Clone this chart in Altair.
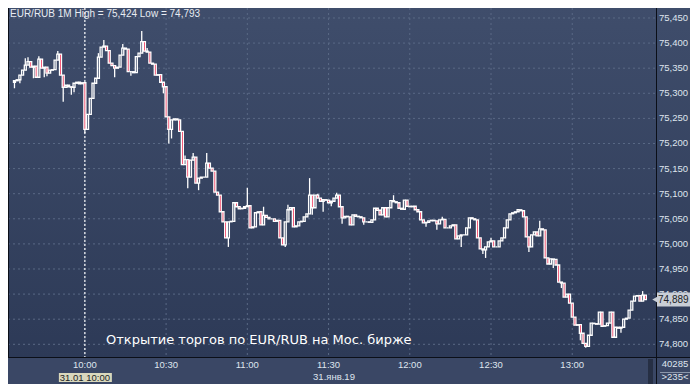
import altair as alt
import pandas as pd

# ---------------- data ----------------
FIRST_OPEN = 75.322
CLOSES = [
    75.325, 75.327, 75.336, 75.346, 75.356, 75.363, 75.352, 75.354, 75.332, 75.368,
    75.350, 75.352, 75.340, 75.346, 75.347, 75.366, 75.378, 75.336, 75.312, 75.316,
    75.313, 75.312, 75.320, 75.322, 75.319, 75.321, 75.228, 75.258, 75.290, 75.320,
    75.330, 75.372, 75.392, 75.394, 75.385, 75.360, 75.355, 75.350, 75.352, 75.376,
    75.390, 75.388, 75.343, 75.343, 75.341, 75.373, 75.380, 75.403, 75.384, 75.382,
    75.360, 75.358, 75.336, 75.337, 75.322, 75.313, 75.253, 75.228, 75.247, 75.249,
    75.247, 75.224, 75.158, 75.168, 75.133, 75.167, 75.173, 75.121, 75.131, 75.133,
    75.133, 75.161, 75.151, 75.145, 75.103, 75.097, 75.064, 75.044, 75.012, 75.044,
    75.045, 75.082, 75.074, 75.070, 75.071, 75.074, 75.076, 75.032, 75.034, 75.062,
    75.064, 75.038, 75.057, 75.053, 75.050, 75.050, 75.045, 75.047, 75.012, 74.998,
    75.044, 75.068, 75.072, 75.034, 75.036, 75.044, 75.045, 75.054, 75.060, 75.097,
    75.072, 75.097, 75.091, 75.085, 75.088, 75.087, 75.082, 75.085, 75.091, 75.097,
    75.074, 75.052, 75.055, 75.054, 75.038, 75.058, 75.055, 75.054, 75.052, 75.044,
    75.044, 75.043, 75.048, 75.071, 75.067, 75.058, 75.072, 75.054, 75.072, 75.086,
    75.084, 75.082, 75.071, 75.069, 75.087, 75.075, 75.074, 75.075, 75.068, 75.064,
    75.048, 75.042, 75.043, 75.046, 75.047, 75.046, 75.040, 75.048, 75.049, 75.032,
    75.032, 75.036, 75.038, 75.010, 75.016, 75.018, 75.018, 75.032, 75.052, 75.050,
    75.048, 75.012, 74.990, 74.988, 74.994, 75.004, 75.006, 74.994, 74.994, 75.006,
    75.012, 75.032, 75.048, 75.060, 75.062, 75.064, 75.068, 75.066, 75.054, 75.014,
    74.994, 75.018, 75.024, 75.016, 75.030, 75.028, 74.972, 74.960, 74.970, 74.969,
    74.958, 74.924, 74.922, 74.894, 74.900, 74.882, 74.854, 74.838, 74.839, 74.822,
    74.802, 74.796, 74.818, 74.842, 74.841, 74.840, 74.864, 74.836, 74.837, 74.842,
    74.864, 74.814, 74.834, 74.832, 74.834, 74.850, 74.852, 74.868, 74.886, 74.896,
    74.897, 74.886, 74.898, 74.889,
]
HIGHS = {4: 75.370, 5: 75.372, 9: 75.374, 16: 75.384, 31: 75.380, 33: 75.406,
         40: 75.398, 47: 75.424, 49: 75.390, 63: 75.176, 66: 75.181, 71: 75.181,
         86: 75.112, 92: 75.074, 101: 75.078, 109: 75.131, 112: 75.100,
         119: 75.102, 135: 75.068, 140: 75.097, 158: 75.054, 176: 75.012,
         194: 75.046, 232: 74.906}
LOWS = {0: 75.310, 2: 75.320, 7: 75.330, 11: 75.332, 12: 75.334, 18: 75.283,
        21: 75.297, 22: 75.302, 26: 75.221, 37: 75.332, 43: 75.335, 55: 75.300,
        57: 75.200, 58: 75.210, 64: 75.111, 68: 75.107, 79: 74.994, 100: 74.994,
        110: 75.058, 114: 75.064, 117: 75.075, 121: 75.040, 129: 75.038,
        152: 75.034, 156: 75.028, 165: 74.994, 173: 74.980, 174: 74.972,
        190: 74.984, 199: 74.952, 202: 74.912, 209: 74.808, 211: 74.793,
        224: 74.823}

Y_TICKS = [74.80, 74.85, 74.90, 74.95, 75.00, 75.05, 75.10, 75.15, 75.20,
           75.25, 75.30, 75.35, 75.40, 75.45]
Y_TICK_LABELS = ["74,800", "74,850", "74,900", "74,950", "75,000", "75,050",
                 "75,100", "75,150", "75,200", "75,250", "75,300", "75,350",
                 "75,400", "75,450"]
X_TICK_MINUTES = [26, 56, 86, 116, 146, 176, 206]   # minutes since 09:34
X_TICK_LABELS = ["10:00", "10:30", "11:00", "11:30", "12:00", "12:30", "13:00"]

TITLE = "EUR/RUB 1M High = 75,424 Low = 74,793"
NOTE = "Открытие торгов по EUR/RUB на Мос. бирже"
SESSION_OPEN_MIN = 26
SESSION_LABEL = "31.01 10:00"
DATE_LABEL = "31.янв.19"
LAST_PRICE = 74.889
LAST_LABEL = "74,889"
VOLUME_LABEL = "40285"
COUNT_LABEL = ">235<"

# ---------------- build table ----------------
opens = [FIRST_OPEN] + CLOSES[:-1]
rows = []
for i, (o, c) in enumerate(zip(opens, CLOSES)):
    top, bot = max(o, c), min(o, c)
    rows.append({"m": i, "open": o, "close": c, "top": top, "bot": bot,
                 "high": max(HIGHS.get(i, top), top),
                 "low": min(LOWS.get(i, bot), bot)})
candles = pd.DataFrame(rows)

W, H = 648, 349
xs = alt.Scale(domain=[-0.545, 235.09], nice=False, zero=False)
ys = alt.Scale(domain=[74.7747, 75.4699], nice=False, zero=False)
one = pd.DataFrame({"k": [0]})

LBL_FONT = "Liberation Sans"
LBL_COLOR = "#dfe5ee"
RED = "#ee1640"

bg = alt.Chart(one).mark_rect(
    color=alt.Gradient(gradient="linear",
                       stops=[alt.GradientStop(color="#3f4d6b", offset=0),
                              alt.GradientStop(color="#2d3a57", offset=1)],
                       x1=0, x2=0, y1=0, y2=1)
).encode(x=alt.value(0), x2=alt.value(682), y=alt.value(0), y2=alt.value(H))

strip = alt.Chart(one).mark_rect(color="#3a4765").encode(
    x=alt.value(0), x2=alt.value(682), y=alt.value(H), y2=alt.value(376))

ydf = pd.DataFrame({"v": Y_TICKS, "lab": Y_TICK_LABELS})
xdf = pd.DataFrame({"m": X_TICK_MINUTES, "lab": X_TICK_LABELS})

hgrid = alt.Chart(ydf).mark_rule(color="#5a6985", strokeDash=[2, 3], strokeWidth=1).encode(
    y=alt.Y("v:Q", scale=ys, axis=None), x=alt.value(0), x2=alt.value(W))
vgrid = alt.Chart(xdf).mark_rule(color="#5a6985", strokeDash=[2, 3], strokeWidth=1).encode(
    x=alt.X("m:Q", scale=xs, axis=None), y=alt.value(0), y2=alt.value(H))
marker = alt.Chart(pd.DataFrame({"m": [SESSION_OPEN_MIN]})).mark_rule(
    color="white", strokeDash=[2, 2], strokeWidth=1.2).encode(
    x=alt.X("m:Q", scale=xs, axis=None), y=alt.value(0), y2=alt.value(H))

X = alt.X("m:Q", scale=xs, axis=None)
up_wick = alt.Chart(candles).transform_filter("datum.high > datum.top").mark_rule(
    color="white", strokeWidth=1.3).encode(
    x=X, y=alt.Y("top:Q", scale=ys, axis=None), y2="high:Q")
lo_wick = alt.Chart(candles).transform_filter("datum.low < datum.bot").mark_rule(
    color="white", strokeWidth=1.3).encode(
    x=X, y=alt.Y("low:Q", scale=ys, axis=None), y2="bot:Q")
bodies = alt.Chart(candles).mark_bar(size=2, stroke="white", strokeWidth=1.3).encode(
    x=X, y=alt.Y("open:Q", scale=ys, axis=None), y2="close:Q",
    fill=alt.condition("datum.close < datum.open", alt.value(RED), alt.value("transparent")))

def txt(s, x, y, size=9, color=LBL_COLOR, align="center", font=LBL_FONT):
    return alt.Chart(pd.DataFrame({"t": [s]})).mark_text(
        align=align, baseline="middle", font=font, fontSize=size, color=color
    ).encode(x=alt.value(x), y=alt.value(y), text="t:N")

title = txt(TITLE, 2, 6, size=10, color="#e8ecf2", align="left")
note = txt(NOTE, 98, 332, size=13, color="#ffffff", align="left", font="DejaVu Sans")

vline = alt.Chart(one).mark_rule(color="#0b0f18", strokeWidth=1).encode(
    x=alt.value(W + 0.5), y=alt.value(0), y2=alt.value(376))
hline = alt.Chart(one).mark_rule(color="#0b0f18", strokeWidth=1).encode(
    y=alt.value(H + 0.5), x=alt.value(0), x2=alt.value(682))
lline = alt.Chart(one).mark_rule(color="#0b0f18", strokeWidth=1).encode(
    x=alt.value(0.5), y=alt.value(0), y2=alt.value(H))

ylabels = alt.Chart(ydf).mark_text(align="left", baseline="middle", font=LBL_FONT,
                                   fontSize=9.5, color=LBL_COLOR).encode(
    y=alt.Y("v:Q", scale=ys, axis=None), x=alt.value(W + 3), text="lab:N")
xlabels = alt.Chart(xdf).mark_text(align="center", baseline="middle", font=LBL_FONT,
                                   fontSize=9.5, color=LBL_COLOR).encode(
    x=alt.X("m:Q", scale=xs, axis=None), y=alt.value(H + 8), text="lab:N")

lastdf = pd.DataFrame({"p": [LAST_PRICE], "t": [LAST_LABEL]})
tag = alt.Chart(lastdf).mark_rect(color="#c9ced6", yOffset=-7, y2Offset=7).encode(
    y=alt.Y("p:Q", scale=ys, axis=None), y2="p:Q", x=alt.value(W + 1), x2=alt.value(682))
tag_arrow = alt.Chart(lastdf).mark_point(shape="triangle-left", filled=True, size=40,
                                         color="#c9ced6", opacity=1).encode(
    y=alt.Y("p:Q", scale=ys, axis=None), x=alt.value(W - 1))
tag_text = alt.Chart(lastdf).mark_text(align="left", baseline="middle", font=LBL_FONT,
                                       fontSize=10, color="#1b1f27").encode(
    y=alt.Y("p:Q", scale=ys, axis=None), x=alt.value(W + 2), text="t:N")

sess_df = pd.DataFrame({"m": [SESSION_OPEN_MIN], "t": [SESSION_LABEL]})
sess_box = alt.Chart(sess_df).mark_rect(color="#d9d8bd", xOffset=-26, x2Offset=27).encode(
    x=alt.X("m:Q", scale=xs, axis=None), x2="m:Q", y=alt.value(H + 16), y2=alt.value(H + 25))
sess_txt = alt.Chart(sess_df).mark_text(align="center", baseline="middle", font=LBL_FONT,
                                        fontSize=9.5, color="#1b1f27").encode(
    x=alt.X("m:Q", scale=xs, axis=None), y=alt.value(H + 20.5), text="t:N")
date_txt = txt(DATE_LABEL, 326, H + 20, size=9.5)

vol_txt = txt(VOLUME_LABEL, 667, H + 7, size=9.5)
sep = alt.Chart(one).mark_rule(color="#8a96aa", strokeWidth=1).encode(
    y=alt.value(H + 15.5), x=alt.value(652), x2=alt.value(682))
cnt_txt = txt(COUNT_LABEL, 667, H + 20, size=9.5)
dark_bar = alt.Chart(one).mark_rect(color="#262f44").encode(
    x=alt.value(640), x2=alt.value(645), y=alt.value(H + 2), y2=alt.value(376))

chart = alt.layer(
    bg, strip, hgrid, vgrid, marker, up_wick, lo_wick, bodies, title, note,
    dark_bar, vline, hline, lline, ylabels, xlabels, tag, tag_arrow, tag_text,
    sess_box, sess_txt, date_txt, vol_txt, sep, cnt_txt
).properties(
    width=W, height=H,
    padding={"left": 0, "top": 0, "right": 34, "bottom": 27},
    autosize=alt.AutoSizeParams(type="none"),
    background="#3a4765",
).configure_view(stroke=None)

chart.save("out.html", embed_options={"renderer": "svg", "actions": False})
